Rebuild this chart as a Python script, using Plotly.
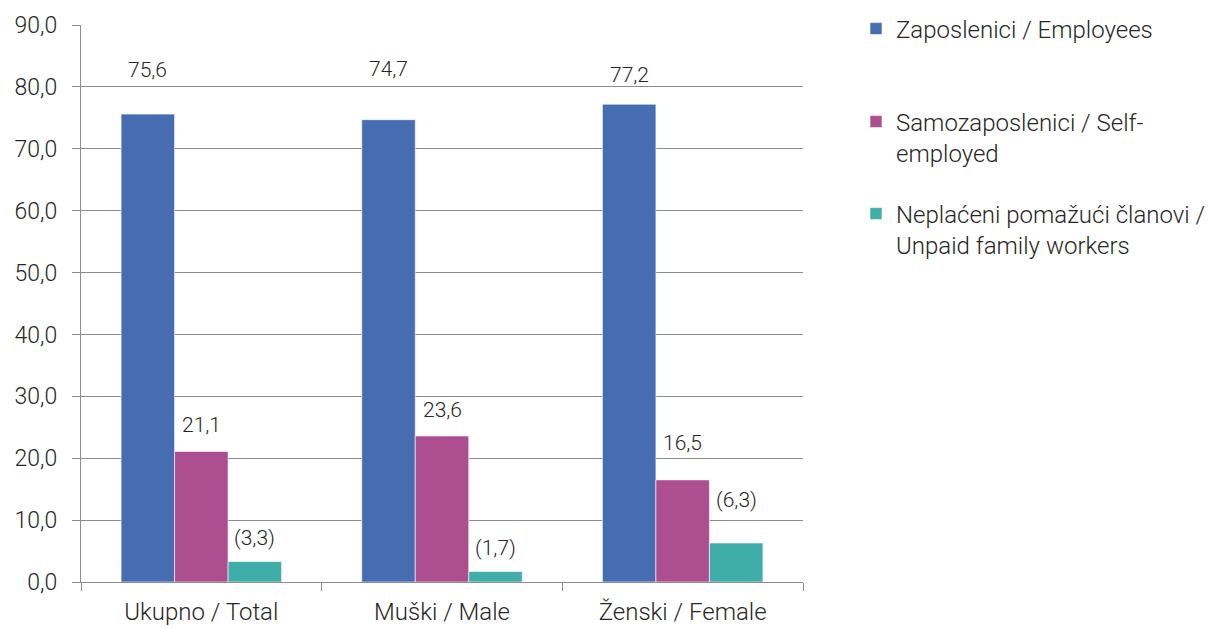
import plotly.graph_objects as go

categories = ["Ukupno / Total", "Muški / Male", "Ženski / Female"]
series_names = [
    "Zaposlenici / Employees",
    "Samozaposlenici / Self-<br>employed",
    "Neplaćeni pomažući članovi /<br>Unpaid family workers",
]
employees = [75.6, 74.7, 77.2]
self_employed = [21.1, 23.6, 16.5]
unpaid = [3.3, 1.7, 6.3]
employees_labels = ["75,6", "74,7", "77,2"]
self_employed_labels = ["21,1", "23,6", "16,5"]
unpaid_labels = ["(3,3)", "(1,7)", "(6,3)"]

colors = ["#466CB2", "#AD4E90", "#3FAEA8"]
label_shifts = [[44, 51, 29], [26, 26, 37], [24, 23, 43]]
legend_ids = ["legend", "legend2", "legend3"]
legend_px = [29, 137.5, 229.5]

values = [employees, self_employed, unpaid]
labels = [employees_labels, self_employed_labels, unpaid_labels]

W, H = 1208, 628
ML, MR, MT, MB = 81, 405, 25, 46
TXT = "#262626"
AX = "#8c8c8c"

fig = go.Figure()
for i in range(3):
    fig.add_trace(go.Bar(
        x=categories, y=values[i], name=series_names[i],
        marker=dict(color=colors[i], line=dict(color="white", width=0.6)),
        offsetgroup=str(i), legend=legend_ids[i],
    ))

plot_w = W - ML - MR
bar_w = plot_w / 3 * 0.667 / 3
for i in range(3):
    for j, c in enumerate(categories):
        fig.add_annotation(
            x=c, y=values[i][j], text=labels[i][j], showarrow=False,
            xshift=(i - 1) * bar_w, yshift=label_shifts[i][j],
            yanchor="middle", font=dict(size=21, color=TXT),
        )

legend_common = dict(xref="container", yref="container", x=856 / W,
                     xanchor="left", yanchor="middle", valign="top",
                     bgcolor="rgba(0,0,0,0)", font=dict(size=24, color=TXT))

fig.update_layout(
    width=W, height=H,
    margin=dict(l=ML, r=MR, t=MT, b=MB),
    paper_bgcolor="white", plot_bgcolor="white",
    font=dict(family="Roboto", size=24, color=TXT, weight=300),
    separators=",.",
    barmode="group", bargap=0.333, bargroupgap=0,
    showlegend=True,
    legend=dict(y=1 - legend_px[0] / H, **legend_common),
    legend2=dict(y=1 - legend_px[1] / H, **legend_common),
    legend3=dict(y=1 - legend_px[2] / H, **legend_common),
    xaxis=dict(showline=True, linecolor=AX, linewidth=1.3,
               ticks="outside", tickson="boundaries", ticklen=8,
               tickcolor=AX, tickwidth=1.3, showgrid=False,
               ticklabelstandoff=8, automargin=False,
               tickfont=dict(size=24, color=TXT)),
    yaxis=dict(range=[0, 90], dtick=10, tickformat=".1f",
               showline=True, linecolor=AX, linewidth=1.3,
               ticks="outside", ticklen=8, tickcolor=AX, tickwidth=1.3,
               showgrid=True, gridcolor=AX, gridwidth=1.3,
               ticklabelstandoff=10, automargin=False,
               zeroline=False, tickfont=dict(size=23, color=TXT)),
)

fig.write_html("out.html",
               config={"displayModeBar": False},
               post_script="document.body.style.margin='0';document.body.style.overflow='hidden';")
